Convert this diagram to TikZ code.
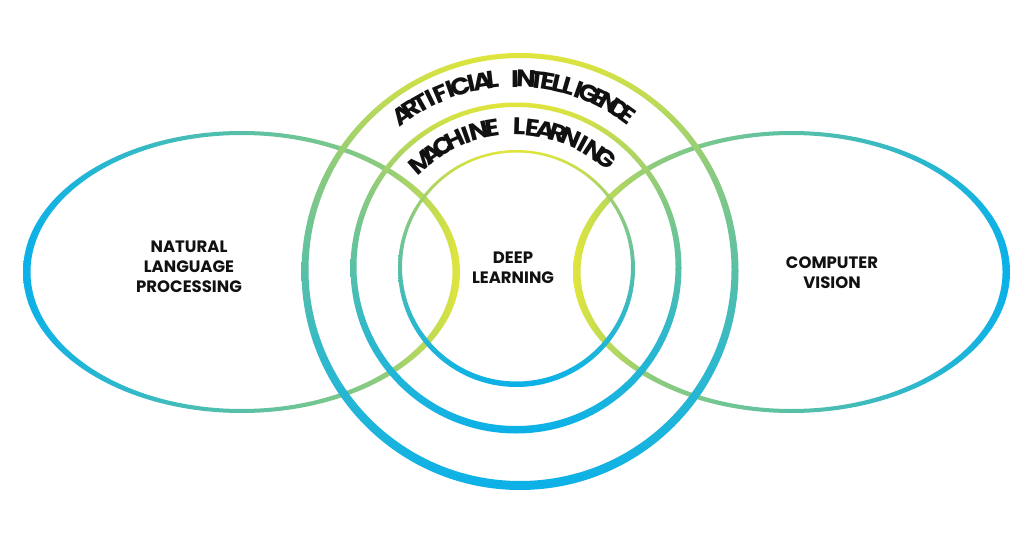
\documentclass[tikz,border=0pt]{standalone}
\usepackage{fontspec}
\setmainfont{Poppins}
\definecolor{cblue}{RGB}{12,177,232}
\definecolor{cbt}{RGB}{47,184,204}
\definecolor{cteal}{RGB}{88,192,166}
\definecolor{cgreen}{RGB}{141,203,125}
\definecolor{cyellow}{RGB}{224,229,59}
\definecolor{ctext}{RGB}{17,17,17}
\pgfdeclarehorizontalshading{nlpshade}{100bp}{color(0bp)=(cblue); color(25bp)=(cblue); color(50bp)=(cteal); color(66bp)=(cgreen); color(75bp)=(cyellow); color(100bp)=(cyellow)}
\pgfdeclarehorizontalshading{cvshade}{100bp}{color(0bp)=(cyellow); color(25bp)=(cyellow); color(34bp)=(cgreen); color(50bp)=(cteal); color(75bp)=(cblue); color(100bp)=(cblue)}
\pgfdeclareverticalshading{ringshade}{100bp}{color(0bp)=(cblue); color(25bp)=(cblue); color(40bp)=(cbt); color(50bp)=(cteal); color(62bp)=(cgreen); color(75bp)=(cyellow); color(100bp)=(cyellow)}
\newcommand{\myArcFont}{\fontsize{16}{18}\selectfont\bfseries}
\newcommand{\myArcXs}{1.65}
\newcommand{\myArcYs}{1.5}
\newlength\myChW
% #1 cx, #2 cy, #3 radius, #4 start angle, #5 end angle, #6 letters
\newcommand{\arcword}[6]{%
  \xdef\arctot{0}\xdef\arcn{0}%
  \foreach \ch in {#6}{%
    \settowidth{\myChW}{\myArcFont\ch}%
    \pgfmathsetmacro\tmp{\arctot+\myChW*\myArcXs}\xdef\arctot{\tmp}%
    \pgfmathtruncatemacro\tmpn{\arcn+1}\xdef\arcn{\tmpn}%
  }%
  \pgfmathsetmacro\arctrack{((#4-#5)*pi/180*#3-\arctot)/(\arcn-1)}%
  \xdef\arctrack{\arctrack}%
  \xdef\arccum{0}%
  \foreach \ch in {#6}{%
    \settowidth{\myChW}{\myArcFont\ch}%
    \pgfmathsetmacro\ang{#4-(\arccum+\myChW*\myArcXs/2)/#3*180/pi}%
    \pgfmathsetmacro\px{#1+#3*cos(\ang)}%
    \pgfmathsetmacro\py{#2+#3*sin(\ang)}%
    \node[rotate=\ang-90, arcchar] at (\px,\py) {\ch};%
    \pgfmathsetmacro\tmp{\arccum+\myChW*\myArcXs+\arctrack}\xdef\arccum{\tmp}%
  }%
}
\tikzset{
  label text/.style={font=\bfseries\fontsize{16.5}{20}\selectfont, text=ctext, align=center, inner sep=0pt},
  arcchar/.style={font=\myArcFont, text=ctext, inner sep=0pt, anchor=base, xscale=\myArcXs, yscale=\myArcYs},
}
\begin{document}
\begin{tikzpicture}[x=1pt,y=1pt]
\fill[white] (0,0) rectangle (1024,555);
\useasboundingbox (0,0) rectangle (1024,555);
% ellipses
\shade[shading=nlpshade, even odd rule] (241.5,283) ellipse[x radius=218.5, y radius=141] (241.5,283) ellipse[x radius=211, y radius=137];
\shade[shading=cvshade, even odd rule] (791.5,283) ellipse[x radius=218.5, y radius=141] (791.5,283) ellipse[x radius=211, y radius=137];
% rings
\shade[shading=ringshade, even odd rule] (520,283.5) circle[radius=218.5] (520,285.5) circle[radius=211.5];
\shade[shading=ringshade, even odd rule] (516,287) circle[radius=165.5] (516,288.5) circle[radius=159.5];
\shade[shading=ringshade, even odd rule] (516.5,286.5) circle[radius=118.5] (516.5,288) circle[radius=114.5];
% curved labels
\arcword{515}{285}{183}{126}{54}{A,R,T,I,F,I,C,I,A,L,~,I,N,T,E,L,L,I,G,E,N,C,E}
\arcword{515}{285}{135}{131}{51}{M,A,C,H,I,N,E,~,L,E,A,R,N,I,N,G}
% labels
\node[label text] (nlp) at (189,288) {NATURAL\\LANGUAGE\\PROCESSING};
\node[label text] (dl) at (513,287) {DEEP\\LEARNING};
\node[label text] (cv) at (832,282) {COMPUTER\\VISION};
\end{tikzpicture}
\end{document}
